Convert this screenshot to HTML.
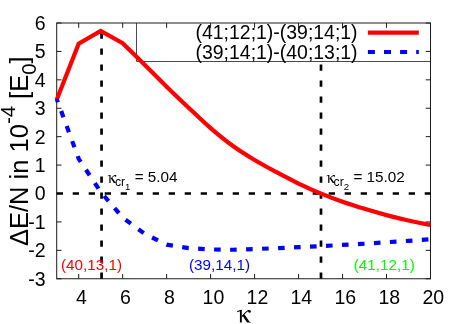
<!DOCTYPE html>
<html><head><meta charset="utf-8"><style>
html,body{margin:0;padding:0;background:#fff;}
svg{display:block;will-change:transform;font-family:"Liberation Sans",sans-serif;}
</style></head><body>
<svg width="463" height="324" viewBox="0 0 463 324">
<rect width="463" height="324" fill="#fff"/>
<g stroke="#1c1c1c" stroke-width="1" fill="none">
<rect x="56.7" y="23.0" width="373.8" height="255.75"/>
<line x1="78.69" y1="278.75" x2="78.69" y2="273.95"/>
<line x1="78.69" y1="23.00" x2="78.69" y2="27.80"/>
<line x1="122.66" y1="278.75" x2="122.66" y2="273.95"/>
<line x1="122.66" y1="23.00" x2="122.66" y2="27.80"/>
<line x1="166.64" y1="278.75" x2="166.64" y2="273.95"/>
<line x1="166.64" y1="23.00" x2="166.64" y2="27.80"/>
<line x1="210.62" y1="278.75" x2="210.62" y2="273.95"/>
<line x1="210.62" y1="23.00" x2="210.62" y2="27.80"/>
<line x1="254.59" y1="278.75" x2="254.59" y2="273.95"/>
<line x1="254.59" y1="23.00" x2="254.59" y2="27.80"/>
<line x1="298.57" y1="278.75" x2="298.57" y2="273.95"/>
<line x1="298.57" y1="23.00" x2="298.57" y2="27.80"/>
<line x1="342.55" y1="278.75" x2="342.55" y2="273.95"/>
<line x1="342.55" y1="23.00" x2="342.55" y2="27.80"/>
<line x1="386.52" y1="278.75" x2="386.52" y2="273.95"/>
<line x1="386.52" y1="23.00" x2="386.52" y2="27.80"/>
<line x1="430.50" y1="278.75" x2="430.50" y2="273.95"/>
<line x1="430.50" y1="23.00" x2="430.50" y2="27.80"/>
<line x1="56.70" y1="278.75" x2="61.50" y2="278.75"/>
<line x1="430.50" y1="278.75" x2="425.70" y2="278.75"/>
<line x1="56.70" y1="250.33" x2="61.50" y2="250.33"/>
<line x1="430.50" y1="250.33" x2="425.70" y2="250.33"/>
<line x1="56.70" y1="221.92" x2="61.50" y2="221.92"/>
<line x1="430.50" y1="221.92" x2="425.70" y2="221.92"/>
<line x1="56.70" y1="193.50" x2="61.50" y2="193.50"/>
<line x1="430.50" y1="193.50" x2="425.70" y2="193.50"/>
<line x1="56.70" y1="165.08" x2="61.50" y2="165.08"/>
<line x1="430.50" y1="165.08" x2="425.70" y2="165.08"/>
<line x1="56.70" y1="136.67" x2="61.50" y2="136.67"/>
<line x1="430.50" y1="136.67" x2="425.70" y2="136.67"/>
<line x1="56.70" y1="108.25" x2="61.50" y2="108.25"/>
<line x1="430.50" y1="108.25" x2="425.70" y2="108.25"/>
<line x1="56.70" y1="79.83" x2="61.50" y2="79.83"/>
<line x1="430.50" y1="79.83" x2="425.70" y2="79.83"/>
<line x1="56.70" y1="51.42" x2="61.50" y2="51.42"/>
<line x1="430.50" y1="51.42" x2="425.70" y2="51.42"/>
<line x1="56.70" y1="23.00" x2="61.50" y2="23.00"/>
<line x1="430.50" y1="23.00" x2="425.70" y2="23.00"/>
<path d="M136.5,23 V61.5 H430.5" stroke-width="0.8"/>
</g>
<g font-size="19.5px" fill="#000">
<text x="81.49" y="304" text-anchor="middle">4</text>
<text x="125.46" y="304" text-anchor="middle">6</text>
<text x="169.44" y="304" text-anchor="middle">8</text>
<text x="213.42" y="304" text-anchor="middle">10</text>
<text x="257.39" y="304" text-anchor="middle">12</text>
<text x="301.37" y="304" text-anchor="middle">14</text>
<text x="345.35" y="304" text-anchor="middle">16</text>
<text x="389.32" y="304" text-anchor="middle">18</text>
<text x="433.30" y="304" text-anchor="middle">20</text>
<text x="45.5" y="285.65" text-anchor="end">-3</text>
<text x="45.5" y="257.23" text-anchor="end">-2</text>
<text x="45.5" y="228.82" text-anchor="end">-1</text>
<text x="45.5" y="200.40" text-anchor="end">0</text>
<text x="45.5" y="171.98" text-anchor="end">1</text>
<text x="45.5" y="143.57" text-anchor="end">2</text>
<text x="45.5" y="115.15" text-anchor="end">3</text>
<text x="45.5" y="86.73" text-anchor="end">4</text>
<text x="45.5" y="58.32" text-anchor="end">5</text>
<text x="45.5" y="29.90" text-anchor="end">6</text>
</g>
<g stroke="#000" stroke-width="2.7" stroke-dasharray="6.3,9.7" fill="none">
<line x1="101.56" y1="278.75" x2="101.56" y2="23.0"/>
<line x1="321.00" y1="278.75" x2="321.00" y2="61.5"/>
<line x1="56.7" y1="193.50" x2="430.5" y2="193.50"/>
</g>
<path d="M56.70,99.73 L78.69,43.74 L100.68,30.96 L122.66,43.18 C126.33,46.78 137.32,57.53 144.65,64.77 C151.98,72.02 159.31,79.50 166.64,86.65 C173.97,93.80 181.30,100.77 188.63,107.68 C195.96,114.60 203.29,121.80 210.62,128.14 C217.95,134.49 225.28,140.46 232.61,145.76 C239.94,151.06 247.26,155.56 254.59,159.97 C261.92,164.37 269.25,168.26 276.58,172.19 C283.91,176.12 291.24,180.03 298.57,183.55 C305.90,187.08 313.23,190.33 320.56,193.36 C327.89,196.39 335.22,199.16 342.55,201.74 C349.88,204.32 357.21,206.62 364.54,208.84 C371.86,211.07 379.19,213.15 386.52,215.10 C393.85,217.04 401.18,218.84 408.51,220.50 C415.84,222.15 426.84,224.28 430.50,225.04" stroke="#f00" stroke-width="4.2" fill="none" stroke-linejoin="miter"/>
<path d="M56.70,98.87 L78.69,158.83 L100.68,191.80 L122.66,217.65 L144.65,233.85 L166.64,244.65 L188.63,248.06 L210.62,249.48 L232.61,249.76 L254.59,249.05 L276.58,248.20 L298.57,247.21 L320.56,246.21 L342.55,244.93 L364.54,243.66 L386.52,242.23 L408.51,240.81 L430.50,239.25" stroke="#00f" stroke-width="4.2" fill="none" stroke-dasharray="6.6,9.4" stroke-dashoffset="3" stroke-linejoin="round"/>
<line x1="367.9" y1="32.6" x2="418.8" y2="32.6" stroke="#f00" stroke-width="4.3"/>
<line x1="367.9" y1="52" x2="418.8" y2="52" stroke="#00f" stroke-width="4.2" stroke-dasharray="7,9.1"/>
<g font-size="19.45px" fill="#000" text-anchor="end">
<text x="357.6" y="38.9">(41;12;1)-(39;14;1)</text>
<text x="357.6" y="58.6">(39;14;1)-(40;13;1)</text>
</g>
<g font-size="15.5px">
<text transform="translate(61,270.2) scale(0.987,1)" fill="#f00">(40,13,1)</text>
<text transform="translate(189,270.2) scale(0.987,1)" fill="#00f">(39,14,1)</text>
<text transform="translate(353.7,270.2) scale(0.987,1)" fill="#0f0">(41,12,1)</text>
</g>
<g font-size="15.5px" fill="#000">
<text transform="translate(114.9,182.2) scale(0.987,1)"><tspan font-size="12.4px" dy="3.9">cr</tspan><tspan font-size="9.8px" dy="3.7">1</tspan><tspan dy="-7.6"> = 5.04</tspan></text>
<text transform="translate(333.6,182.2) scale(0.987,1)"><tspan font-size="12.4px" dy="3.9">cr</tspan><tspan font-size="9.8px" dy="3.7">2</tspan><tspan dy="-7.6"> = 15.02</tspan></text>
</g>
<g transform="translate(233,305) scale(0.05865)" fill="#000">
<path d="M66,110 L118,86 L150,82 L150,300 L118,300 L118,106 L72,122 Z"/>
<path d="M150,188 Q195,128 244,92 Q268,80 294,92 L288,120 Q262,104 248,112 Q200,150 160,206 Z"/>
<circle cx="283" cy="110" r="22"/>
<path d="M160,180 L194,158 L282,286 L308,292 L308,300 L238,300 Z"/>
</g>
<g transform="translate(105.023,171.850) scale(0.037)" fill="#000">
<path d="M66,110 L118,86 L150,82 L150,300 L118,300 L118,106 L72,122 Z"/>
<path d="M150,188 Q195,128 244,92 Q268,80 294,92 L288,120 Q262,104 248,112 Q200,150 160,206 Z"/>
<circle cx="283" cy="110" r="22"/>
<path d="M160,180 L194,158 L282,286 L308,292 L308,300 L238,300 Z"/>
</g>
<g transform="translate(323.823,171.850) scale(0.037)" fill="#000">
<path d="M66,110 L118,86 L150,82 L150,300 L118,300 L118,106 L72,122 Z"/>
<path d="M150,188 Q195,128 244,92 Q268,80 294,92 L288,120 Q262,104 248,112 Q200,150 160,206 Z"/>
<circle cx="283" cy="110" r="22"/>
<path d="M160,180 L194,158 L282,286 L308,292 L308,300 L238,300 Z"/>
</g>

<text transform="translate(27.9,151.2) rotate(-90)" font-size="25.5px" text-anchor="middle">ΔE/N in 10<tspan font-size="20.4px" dy="-12.75">-4</tspan><tspan dy="12.75"> [E</tspan><tspan font-size="20.4px" dy="7.65">0</tspan><tspan dy="-7.65">]</tspan></text>
</svg>
</body></html>
